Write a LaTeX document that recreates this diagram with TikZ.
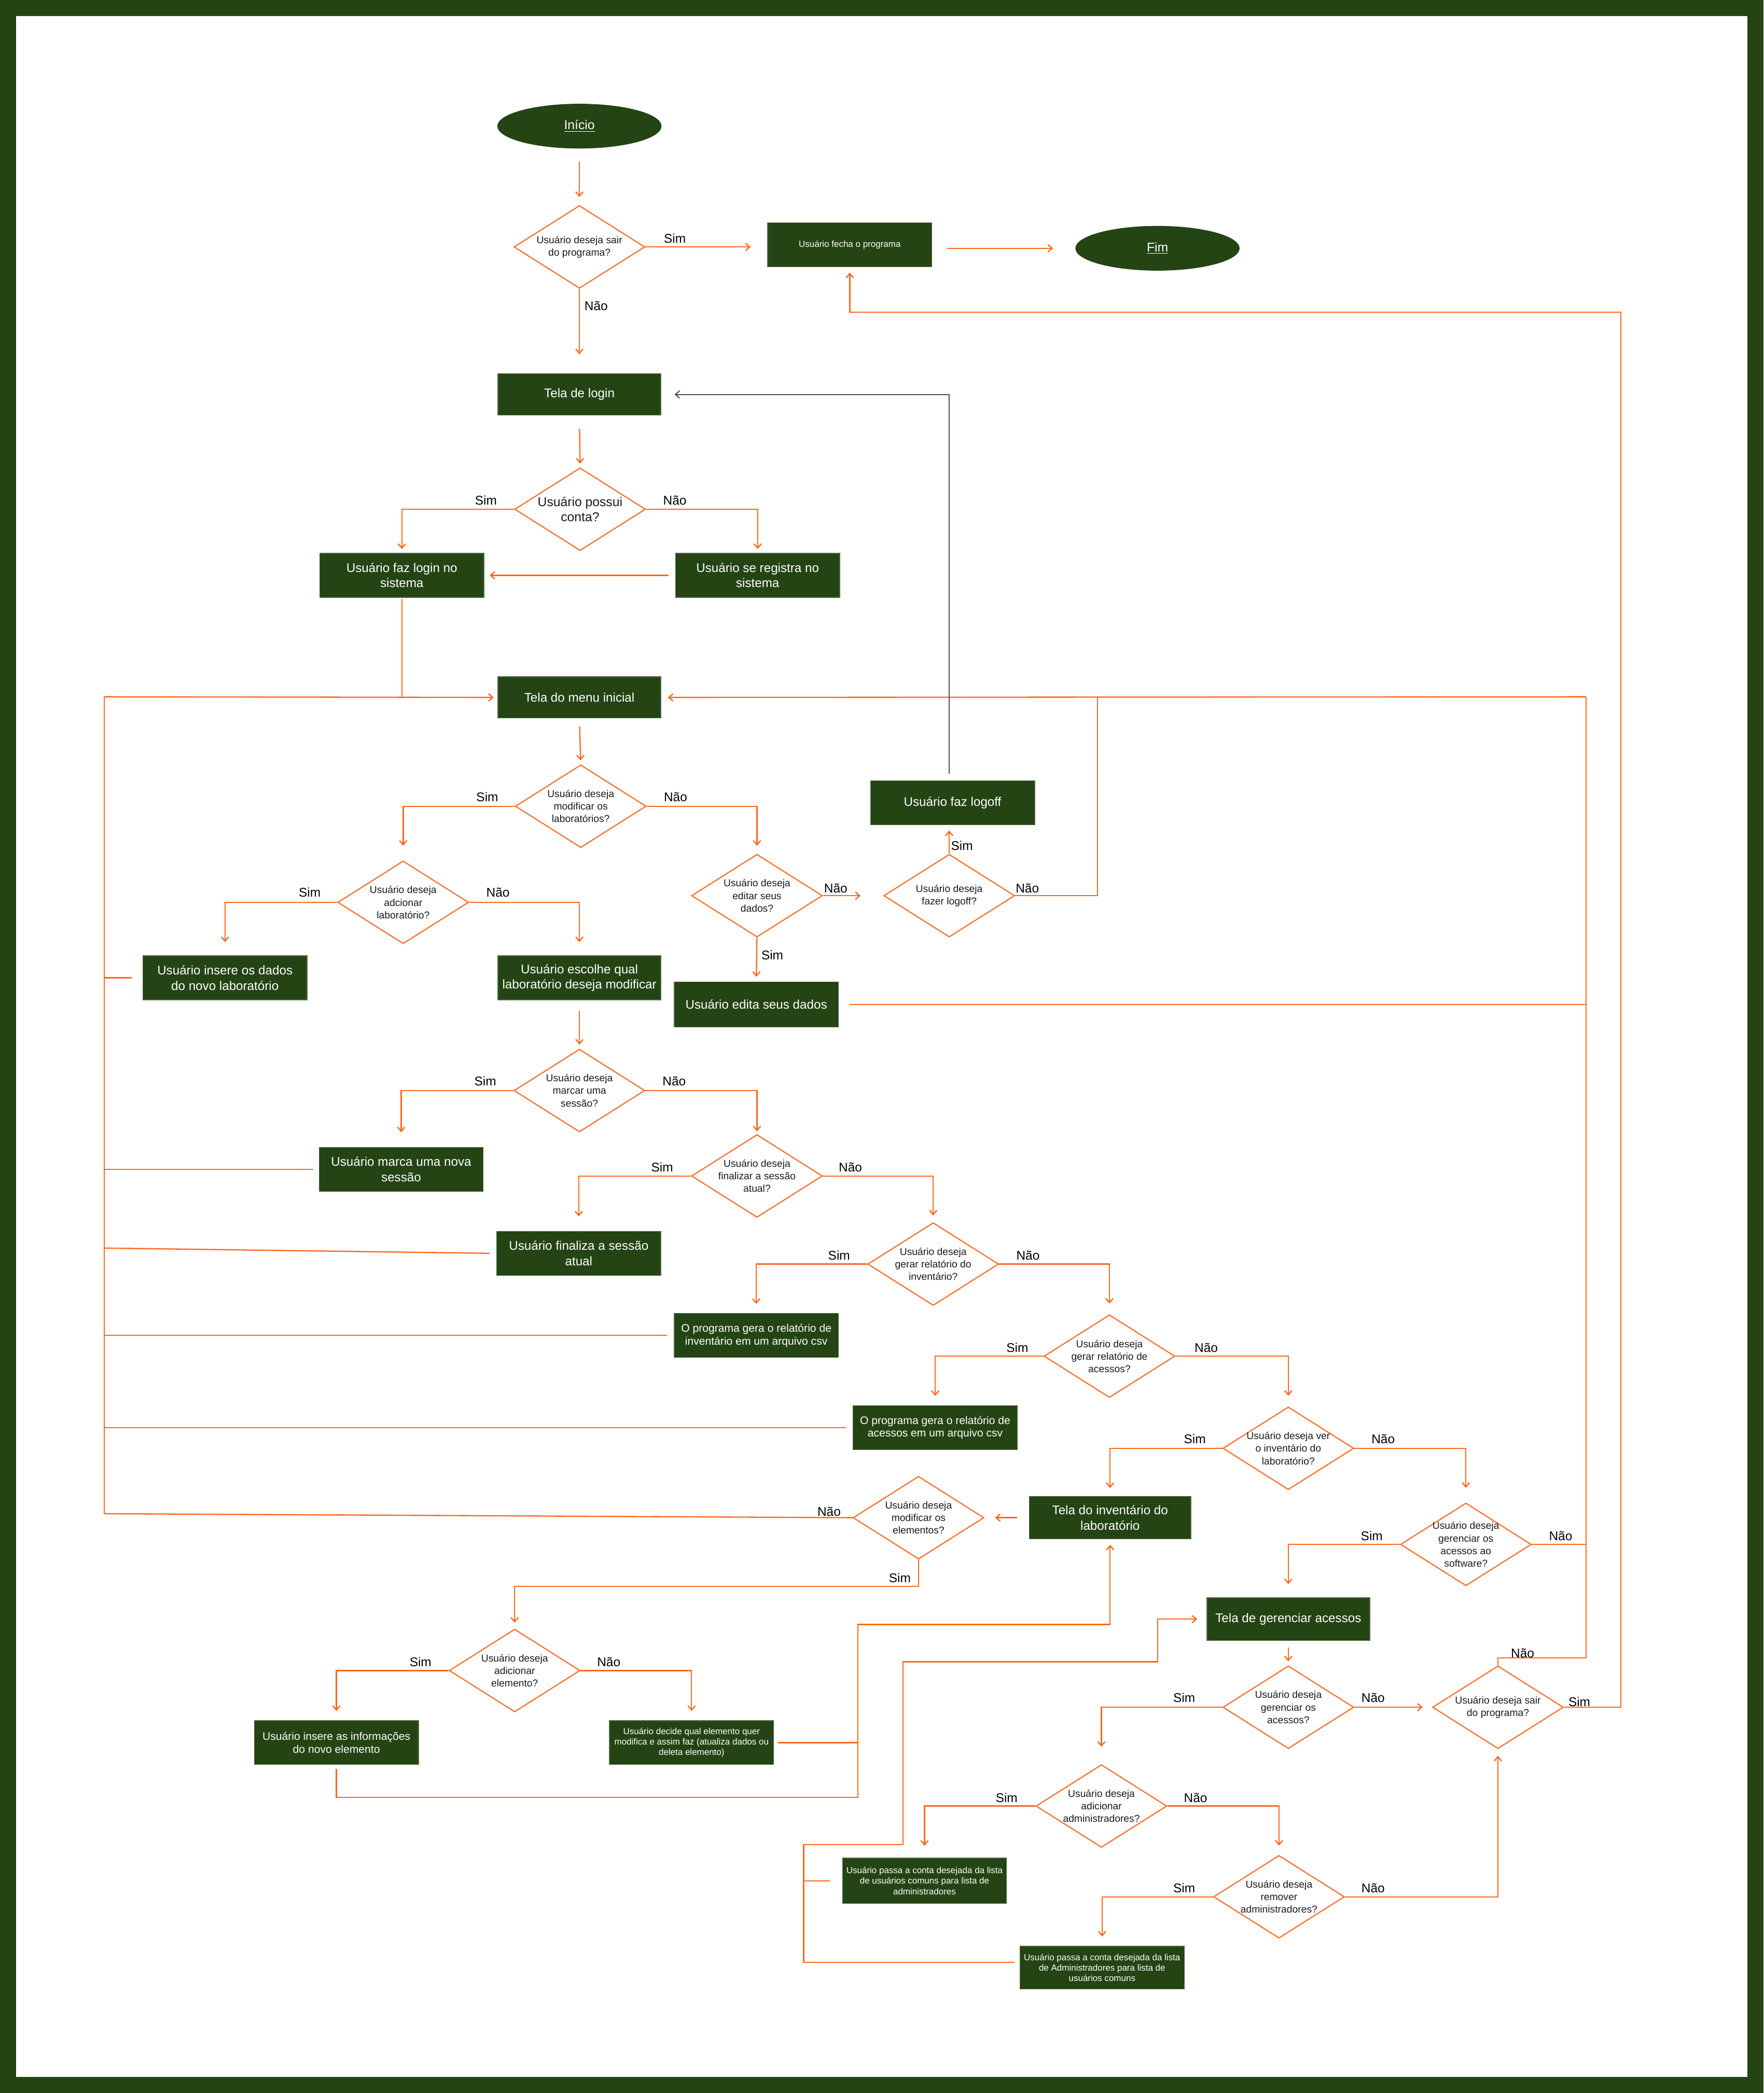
\documentclass[tikz,border=0pt]{standalone}
\usepackage{fontspec}
\setmainfont{Liberation Sans}
\usetikzlibrary{shapes.geometric,arrows.meta,calc}
\definecolor{gr}{RGB}{36,68,20}
\definecolor{grl}{RGB}{82,106,72}
\definecolor{orn}{RGB}{255,102,26}
\definecolor{lgl}{RGB}{95,70,70}
\newcommand\fsz[2]{\fontsize{#1}{#2}\selectfont}
\newcommand\mkdec[4]{\node[dec] (#1) at (#2,#3) {};\node[dtext] (#1t) at (#1) {#4};}
\begin{document}
\begin{tikzpicture}[x=1pt,y=-1pt,
 box/.style={rectangle, fill=gr, draw=grl, line width=0.5pt, minimum width=123pt, minimum height=33pt, inner sep=1pt, text=white, align=center, font=\fsz{9.4}{11.5}},
 midf/.style={font=\fsz{8.2}{9.5}},
 tinyf/.style={font=\fsz{6.6}{7.8}},
 term/.style={ellipse, fill=gr, minimum width=123pt, minimum height=33.5pt, inner sep=0pt, text=white, font=\fsz{9.6}{11}},
 dec/.style={diamond, draw=orn, fill=white, line width=0.8pt, minimum width=98pt, minimum height=62pt, inner sep=0pt},
 dtext/.style={align=center, inner sep=0pt, text=black!90, font=\fsz{7.5}{9.4}},
 lab/.style={inner sep=0pt, text=black, font=\fsz{9.5}{11}},
 ln/.style={draw=orn, line width=0.9pt},
 arr/.style={ln, -{Straight Barb[length=3.2pt,width=5.5pt]}},
 arrg/.style={draw=lgl, line width=0.8pt, -{Straight Barb[length=3.2pt,width=5.5pt]}},
]
\useasboundingbox (0,0) rectangle (1321,1568);
\fill[gr] (0,0) rectangle (1321,1568);
\fill[white] (12,12) rectangle (1309,1556);

% ---------- terminals and boxes ----------
\node[term] (inicio) at (434,94.5) {\underline{Início}};
\node[term] (fim) at (867,186) {\underline{Fim}};
\node[box,tinyf] (fecha) at (636.5,183.5) {Usuário fecha o programa};
\node[box,minimum width=122pt,minimum height=31pt] (login) at (434,295.5) {Tela de login};
\node[box] (fazlogin) at (301,431) {Usuário faz login no\\sistema};
\node[box] (registra) at (567.5,431) {Usuário se registra no\\sistema};
\node[box,minimum width=122pt,minimum height=31pt] (menu) at (434,522.5) {Tela do menu inicial};
\node[box] (logoff) at (713.5,601.5) {Usuário faz logoff};
\node[box] (inslab) at (168.5,732.5) {Usuário insere os dados\\do novo laboratório};
\node[box,minimum width=122pt] (escolhe) at (434,732.5) {Usuário escolhe qual\\laboratório deseja modificar};
\node[box,minimum height=34pt] (edita) at (566.5,752.5) {Usuário edita seus dados};
\node[box] (marca) at (300.5,876) {Usuário marca uma nova\\sessão};
\node[box] (finaliza) at (433.5,939) {Usuário finaliza a sessão\\atual};
\node[box,midf] (relinv) at (566.5,1000.5) {O programa gera o relatório de\\inventário em um arquivo csv};
\node[box,midf] (relacc) at (700.5,1069.5) {O programa gera o relatório de\\acessos em um arquivo csv};
\node[box,minimum width=121pt,minimum height=32pt] (inv) at (831.5,1137) {Tela do inventário do\\laboratório};
\node[box,minimum width=122pt,minimum height=32pt] (ger) at (965,1213) {Tela de gerenciar acessos};
\node[box,midf] (inselem) at (252,1305.5) {Usuário insere as informações\\do novo elemento};
\node[box,tinyf] (decide) at (518,1305.5) {Usuário decide qual elemento quer\\modifica e assim faz (atualiza dados ou\\deleta elemento)};
\node[box,tinyf,minimum height=34pt] (passa1) at (692.5,1409) {Usuário passa a conta desejada da lista\\de usuários comuns para lista de\\administradores};
\node[box,tinyf,minimum height=32pt] (passa2) at (825.5,1474) {Usuário passa a conta desejada da lista\\de Administradores para lista de\\usuários comuns};

% ---------- decisions ----------
\mkdec{d1}{434}{185}{Usuário deseja sair\\do programa?}
\node[dec] (d2) at (434.5,381.5) {};
\node[dtext,font=\fsz{9.6}{11.5}] (d2t) at (d2) {Usuário possui\\conta?};
\mkdec{d3}{435}{604}{Usuário deseja\\modificar os\\laboratórios?}
\mkdec{d4}{302}{676}{Usuário deseja\\adcionar\\laboratório?}
\mkdec{d5}{567}{671}{Usuário deseja\\editar seus\\dados?}
\mkdec{d6}{711}{671}{Usuário deseja\\fazer logoff?}
\mkdec{d7}{434}{817}{Usuário deseja\\marcar uma\\sessão?}
\mkdec{d8}{567}{881}{Usuário deseja\\finalizar a sessão\\atual?}
\mkdec{d9}{699}{947}{Usuário deseja\\gerar relatório do\\inventário?}
\mkdec{d10}{831}{1016}{Usuário deseja\\gerar relatório de\\acessos?}
\mkdec{d11}{965}{1085}{Usuário deseja ver\\o inventário do\\laboratório?}
\mkdec{d12}{688}{1137}{Usuário deseja\\modificar os\\elementos?}
\mkdec{d13}{1098}{1157}{Usuário deseja\\gerenciar os\\acessos ao\\software?}
\mkdec{d14}{385.5}{1251.5}{Usuário deseja\\adicionar\\elemento?}
\mkdec{d15}{965}{1279}{Usuário deseja\\gerenciar os\\acessos?}
\mkdec{d16}{1122}{1279}{Usuário deseja sair\\do programa?}
\mkdec{d17}{825}{1353}{Usuário deseja\\adicionar\\administradores?}
\mkdec{d18}{958}{1421}{Usuário deseja\\remover\\administradores?}

% ---------- bus coordinates ----------
\coordinate (lbtop) at (78,522);
\coordinate (lbbot) at (78,1134);
\coordinate (rbtop) at (1188,522);
\coordinate (rbbot) at (1188,1242);
\coordinate (lo) at (822,522);
\coordinate (lf) at (78,935);
\coordinate (rtop) at (1214,234);
\coordinate (loopA) at (642.5,1217);
\coordinate (loopB) at (642.5,1346.5);
\coordinate (pA) at (602,1382);
\coordinate (pB) at (676.5,1245);
\coordinate (pC) at (867,1213);

% ---------- connectors ----------
\draw[arr, shorten <=9.7pt, shorten >=6pt] (inicio.south) -- (d1.north);
\draw[arr, shorten >=12.5pt] (d1.east) -- (d1.east -| fecha.west);
\draw[arr, shorten <=11pt, shorten >=16.5pt] (fecha.east |- fim.west) -- (fim.west);
\draw[arr, shorten >=14.4pt] (d1.south) -- (login.north);
\draw[arr, shorten <=10pt, shorten >=2.8pt] (login.south) -- (d2.north);
\draw[arr, shorten >=3pt] (d2.west) -| (fazlogin.north);
\draw[arr, shorten >=3pt] (d2.east) -| (registra.north);
\draw[arr, shorten <=5pt, shorten >=4pt] (registra.west) -- (fazlogin.east);
\draw[ln, shorten <=1pt] (fazlogin.south) -- (fazlogin.south |- menu.west);
\draw[ln] (lbtop) -- (lbbot);
\draw[arr, shorten >=3pt] (lbtop) -- (menu.west);
\draw[ln] (rbtop) -- (rbbot);
\draw[arr, shorten >=5pt] (rbtop) -- (menu.east);
\draw[arr, shorten <=6pt, shorten >=3pt] (menu.south) -- (d3.north);
\draw[arr, shorten >=11pt] (d3.west) -| (d4.north);
\draw[arr, shorten >=6pt] (d3.east) -| (d5.north);
\draw[arr, shorten >=10pt] (d4.west) -| (inslab.north);
\draw[arr, shorten >=10pt] (d4.east) -| (escolhe.north);
\draw[arr, shorten >=17pt] (d5.east) -- (d6.west);
\draw[arr, shorten >=3.5pt] (d5.south) -- (edita.north);
\draw[arr, shorten >=4pt] (d6.north) -- (d6.north |- logoff.south);
\draw[ln] (d6.east) -| (lo);
\draw[arrg, shorten <=5pt, shorten >=10pt] (logoff.north -| d6.north) |- (login.east);
\draw[ln, shorten >=8pt] (inslab.west -| lbtop) -- (inslab.west);
\draw[ln, shorten <=8pt] (edita.east) -- (edita.east -| rbtop);
\draw[arr, shorten <=8pt, shorten >=3pt] (escolhe.south) -- (d7.north);
\draw[arr, shorten >=11pt] (d7.west) -| (marca.north);
\draw[arr, shorten >=2pt] (d7.east) -| (d8.north);
\draw[ln, shorten >=4pt] (marca.west -| lbtop) -- (marca.west);
\draw[arr, shorten >=11pt] (d8.west) -| (finaliza.north);
\draw[arr, shorten >=5pt] (d8.east) -| (d9.north);
\draw[ln, shorten >=5pt] (lf) -- (finaliza.west);
\draw[arr, shorten >=7pt] (d9.west) -| (relinv.north);
\draw[arr, shorten >=8pt] (d9.east) -| (d10.north);
\draw[ln, shorten >=5pt] (relinv.west -| lbtop) -- (relinv.west);
\draw[arr, shorten >=7pt] (d10.west) -| (relacc.north);
\draw[arr, shorten >=8pt] (d10.east) -| (d11.north);
\draw[ln, shorten >=5pt] (relacc.west -| lbtop) -- (relacc.west);
\draw[arr, shorten >=6pt] (d11.west) -| (inv.north);
\draw[arr, shorten >=11pt] (d11.east) -| (d13.north);
\draw[arr, shorten <=9pt, shorten >=8pt] (inv.west) -- (d12.east);
\draw[ln] (d12.west) -- (lbbot);
\draw[arr, shorten >=4.5pt] (d12.south) -- ++(0,20) -| (d14.north);
\draw[arr, shorten >=10pt] (d13.west) -| (ger.north);
\draw[ln] (d13.east) -- (d13.east -| rbtop);
\draw[arr, shorten <=5pt, shorten >=3pt] (ger.south) -- (d15.north);
\draw[arr, shorten >=7pt] (d14.west) -| (inselem.north);
\draw[arr, shorten >=7pt] (d14.east) -| (decide.north);
\draw[arr, shorten <=3pt, shorten >=4pt] (inselem.south) |- (loopB) -- (loopA) -| (inv.south);
\draw[ln, shorten <=3pt] (decide.east) -- (decide.east -| loopA);
\draw[arr, shorten <=4pt, shorten >=7pt] ([yshift=4pt]passa2.west) -| (pA) -| (pB) -| (pC) -- (ger.west);
\draw[ln, shorten >=9pt] (passa1.west -| pA) -- (passa1.west);
\draw[arr, shorten >=13pt] (d15.west) -| (d17.north);
\draw[arr, shorten >=7pt] (d15.east) -- (d16.west);
\draw[ln] (d16.north) |- (rbbot);
\draw[arr, shorten >=4pt] (d16.east) -| (rtop) -| (fecha.south);
\draw[arr, shorten >=9pt] (d17.west) -| (passa1.north);
\draw[arr, shorten >=7pt] (d17.east) -| (d18.north);
\draw[arr, shorten >=7pt] (d18.west) -| (passa2.north);
\draw[arr, shorten >=5pt] (d18.east) -| (d16.south);

% ---------- labels ----------
\node[lab] (l1) at (505.5,178.5) {Sim};
\node[lab] (l2) at (446.5,229) {Não};
\node[lab] (l3) at (364,375) {Sim};
\node[lab] (l4) at (505.5,375) {Não};
\node[lab] (l5) at (365,597) {Sim};
\node[lab] (l6) at (506,597) {Não};
\node[lab] (l7) at (232,668.5) {Sim};
\node[lab] (l8) at (373,668.5) {Não};
\node[lab] (l9) at (626,665.5) {Não};
\node[lab] (l10) at (578.5,715.5) {Sim};
\node[lab] (l11) at (720.5,633.5) {Sim};
\node[lab] (l12) at (769.5,665.5) {Não};
\node[lab] (l13) at (363.5,810) {Sim};
\node[lab] (l14) at (505,810) {Não};
\node[lab] (l15) at (496,874.5) {Sim};
\node[lab] (l16) at (637,874.5) {Não};
\node[lab] (l17) at (628.5,940.5) {Sim};
\node[lab] (l18) at (770,940.5) {Não};
\node[lab] (l19) at (762,1009.5) {Sim};
\node[lab] (l20) at (903.5,1009.5) {Não};
\node[lab] (l21) at (895,1078) {Sim};
\node[lab] (l22) at (1036,1078) {Não};
\node[lab] (l23) at (621,1132.5) {Não};
\node[lab] (l24) at (674,1182) {Sim};
\node[lab] (l25) at (1027.5,1150.5) {Sim};
\node[lab] (l26) at (1169,1150.5) {Não};
\node[lab] (l27) at (315,1245) {Sim};
\node[lab] (l28) at (456,1245) {Não};
\node[lab] (l29) at (887,1272) {Sim};
\node[lab] (l30) at (1028.5,1272) {Não};
\node[lab] (l31) at (1140.5,1238.5) {Não};
\node[lab] (l32) at (1183,1275) {Sim};
\node[lab] (l33) at (754,1347) {Sim};
\node[lab] (l34) at (895.5,1347) {Não};
\node[lab] (l35) at (887,1414.5) {Sim};
\node[lab] (l36) at (1028.5,1414.5) {Não};
\end{tikzpicture}
\end{document}
